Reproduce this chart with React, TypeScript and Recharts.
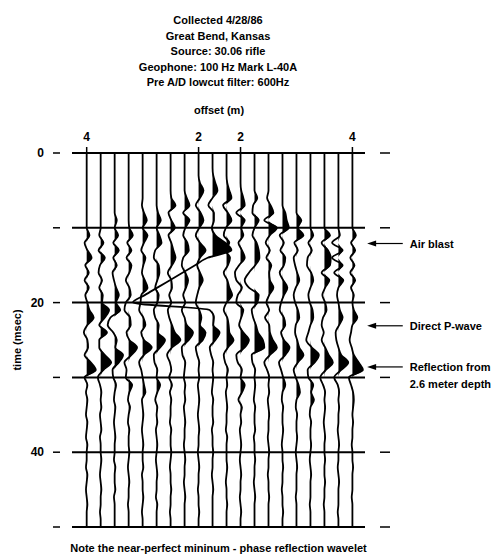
import React from "react";
import {
  ComposedChart,
  Line,
  Area,
  XAxis,
  YAxis,
  CartesianGrid,
  ReferenceLine,
} from "recharts";

const FONT = '"Liberation Sans", Arial, sans-serif';

// sample times (msec), one row per sample
const times = [
  0, 1, 2, 3, 4, 5, 6, 7, 8, 9, 10, 11, 12, 13, 14, 15, 16, 17, 18, 19, 20,
  21, 22, 23, 24, 25, 26, 27, 28, 29, 30, 31, 32, 33, 34, 35, 36, 37, 38, 39,
  40, 41, 42, 43, 44, 45, 46, 47, 48, 49, 50,
];

// trace numbers carrying an offset label on the top axis
const offsetTicks = [1, 9, 12, 20];
const offsetLabels = ["4", "2", "2", "4"];

const timeTicks = [0, 10, 20, 30, 40, 50];
const timeLabels = ["0", "", "20", "", "40", ""];

const titleLines = [
  "Collected 4/28/86",
  "Great Bend, Kansas",
  "Source: 30.06 rifle",
  "Geophone: 100 Hz Mark L-40A",
  "Pre A/D lowcut filter: 600Hz",
];

const noteTimes = [12.1, 23.1, 28.6];
const noteTexts = [["Air blast"], ["Direct P-wave"], ["Reflection from", "2.6 meter depth"]];

// trace amplitudes (in trace spacings), one value per msec
const trace01 = [
  0, 0, 0, 0, 0, 0, 0, 0, 0, 0,
  0, 0.2, -0.15, 0.05, 0.35, -0.1, 0.15, -0.15, 0.15, -0.1,
  0.05, 0.2, 0.5, 0.05, -0.2, 0.05, 0.1, -0.15, 0.3, 0.65,
  -0.15, 0.05, -0.05, 0.05, 0, -0.05, 0.05, 0, -0.05, 0.05,
  0, 0, -0.05, 0.05, 0, -0.05, 0, 0.05, 0, 0, 0,
];
const trace02 = [
  0, 0, 0, 0, 0, 0, 0, 0, 0, 0,
  0, -0.1, 0.2, -0.15, 0.3, -0.05, -0.15, 0.1, -0.1, 0.15,
  0.1, 0.6, 0.3, -0.1, 0.45, -0.1, -0.1, 0.3, 0.75, 0.2,
  -0.2, -0.05, 0.05, 0, 0.05, -0.05, 0, 0.05, -0.05, 0,
  0, 0.05, 0, -0.05, 0, 0.05, 0, 0, -0.05, 0, 0,
];
const trace03 = [
  0, 0, 0, 0, 0, 0, 0, 0, 0, 0.15,
  0, 0.25, -0.1, 0.3, -0.1, 0.15, -0.15, -0.05, 0.1, 0.3,
  0.1, 0.4, -0.3, -0.5, -0.1, 0.15, 0.05, 0.6, 0.3, -0.15,
  -0.1, 0.1, 0, -0.05, 0.05, 0, -0.05, 0, 0.05, 0,
  0, -0.05, 0.05, 0, 0, 0.05, -0.05, 0, 0, 0, 0,
];
const trace04 = [
  0, 0, 0, 0, 0, 0, 0, 0, 0, 0,
  0.05, 0.3, -0.1, 0.2, -0.15, 0.2, 0.05, -0.2, 0.05, 0.15,
  -0.2, -0.3, 0.1, 0.15, -0.15, 0.05, 0.6, 0.2, -0.3, -0.15,
  -0.2, 0.25, 0.05, -0.05, 0.1, 0, -0.05, 0.05, 0, 0,
  0.05, 0, -0.05, 0, 0.05, 0, 0, -0.05, 0, 0, 0,
];
const trace05 = [
  0, 0, 0, 0, 0, 0, 0, -0.05, 0.1, 0.3,
  0, 0.35, 0.1, -0.1, 0.2, 0.05, -0.05, 0.15, 0.35, -0.1,
  -0.15, -0.25, 0.05, 0.2, -0.1, 0.1, 0.65, 0.1, -0.25, -0.1,
  0, 0.1, 0.2, -0.05, 0, 0.05, 0, -0.05, 0, 0.05,
  0, 0, 0.05, -0.05, 0, 0, 0.05, 0, -0.05, 0, 0,
];
const trace06 = [
  0, 0, 0, 0, 0, 0, 0, 0, 0.1, 0.3,
  0, 0.2, 0.35, -0.1, -0.2, 0.15, 0.2, 0.05, -0.1, 0.15,
  0.05, -0.2, -0.1, 0.15, 0.1, 0.6, 0.25, -0.2, -0.15, 0.05,
  0, 0.25, 0.05, -0.1, 0.05, 0, 0.05, -0.05, 0, 0.05,
  0, -0.05, 0, 0.05, 0, 0, -0.05, 0.05, 0, 0, 0,
];
const trace07 = [
  0, 0, 0, 0, 0, 0, 0.05, 0.35, -0.15, 0.05,
  0.3, -0.15, 0.05, 0.2, 0.35, 0.1, -0.2, 0.05, 0.1, -0.1,
  0.05, -0.2, -0.1, 0.1, 0.3, 0.7, 0.1, -0.25, -0.05, 0.05,
  -0.1, 0.1, -0.05, 0.05, 0, 0, -0.05, 0.05, 0, 0,
  0.05, 0, -0.05, 0, 0, 0.05, 0, 0, -0.05, 0, 0,
];
const trace08 = [
  0, 0, 0, 0, 0, 0, 0.15, 0.35, -0.1, 0.35,
  0.05, -0.1, 0.2, 0.3, -0.1, -0.2, 0.05, 0.25, 0.1, -0.1,
  0.05, -0.2, 0, 0.15, 0.6, 0.3, -0.2, -0.15, 0.05, 0,
  -0.05, 0.05, 0, 0.05, -0.05, 0, 0.05, 0, 0, -0.05,
  0, 0.05, 0, 0, -0.05, 0, 0.05, 0, 0, 0, 0,
];
const trace09 = [
  0, 0, 0, 0, 0.1, 0.35, 0.1, -0.2, 0.15, 0.35,
  0.05, -0.2, 0.1, 0.5, 0.1, -0.1, 0.1, 0.3, 0.05, -0.1,
  -0.2, 0.05, 0.2, 0.1, 0.5, 0.3, -0.2, -0.1, 0.05, 0,
  0.05, -0.05, 0, 0.05, 0, -0.05, 0, 0.05, 0, 0,
  -0.05, 0, 0.05, 0, 0, -0.05, 0, 0, 0.05, 0, 0,
];
const trace10 = [
  0, 0, 0, 0.05, 0.2, 0.35, 0, -0.3, 0.1, 0.1,
  -0.05, 0.2, 0.9, 1.35, -0.35, -1.25, -2.15, -3.05, -3.95, -4.85,
  -5.7, -0.2, 0.1, 0.05, 0.5, 0.2, -0.2, -0.1, 0.05, 0,
  0.05, 0, -0.05, 0.05, 0, 0, 0.05, -0.05, 0, 0,
  0.05, 0, 0, -0.05, 0, 0.05, 0, 0, 0, 0, 0,
];
const trace11 = [
  0, 0, 0, 0, 0.05, 0.2, 0.35, -0.25, 0.1, 0.35,
  -0.05, -0.2, 0.2, -0.1, 0.25, 0.1, -0.2, 0.05, 0.2, 0.4,
  0, -0.2, 0.05, 0.15, 0.2, 0.5, 0.1, -0.2, -0.1, 0.1,
  0, 0.05, -0.05, 0, 0.05, 0, 0, -0.05, 0.05, 0,
  0, 0, 0.05, 0, -0.05, 0, 0, 0.05, 0, 0, 0,
];
const trace12 = [
  0, 0, 0, 0, 0, 0.05, 0.2, 0.3, -0.3, 0.3,
  0.05, 0.2, -0.15, 0.1, 0.3, -0.1, -0.4, -0.3, 0.1, -0.2,
  -0.3, 0.2, 0.05, -0.1, 0.2, 0.6, 0.3, -0.3, -0.2, 0.1,
  0, 0.3, 0.1, -0.15, 0.1, 0, 0.05, -0.05, 0, 0.05,
  0, -0.05, 0, 0.05, 0, 0, -0.05, 0, 0.05, 0, 0,
];
const trace13 = [
  0, 0, 0, 0, 0, 0, 0.2, -0.1, -0.15, 0.3,
  0, -0.15, 0.15, 0.3, 0.35, 0.05, -0.4, -0.7, -0.4, 0.3,
  0.2, -0.2, -0.1, 0.1, 0.25, 0.6, 0.7, -0.2, -0.15, 0.05,
  0, 0.05, 0, -0.05, 0.05, 0, 0, 0.05, -0.05, 0,
  0, 0.05, 0, 0, -0.05, 0, 0.05, 0, 0, 0, 0,
];
const trace14 = [
  0, 0, 0, 0, 0, 0, -0.1, 0.15, 0.35, -0.3,
  0.6, 0.1, -0.2, 0.1, -0.15, 0.2, 0.05, 0.1, 0.35, 0.05,
  -0.15, 0.05, -0.25, 0.05, 0.1, 0.3, 0.6, 0.1, -0.3, -0.1,
  0.05, 0, 0.05, -0.05, 0, 0.05, 0, 0, -0.05, 0,
  0.05, 0, 0, -0.05, 0, 0, 0.05, 0, 0, 0, 0,
];
const trace15 = [
  0, 0, 0, 0, 0, 0, 0, 0, 0.2, 0.3,
  0.45, -0.2, 0.1, -0.15, 0.2, 0.1, -0.2, 0.05, 0.35, 0.1,
  -0.1, -0.2, 0.1, 0.2, -0.1, 0.1, 0.5, 0.2, -0.25, -0.1,
  0.05, 0.2, 0, -0.05, 0.05, 0, 0, 0.05, 0, -0.05,
  0, 0, 0.05, 0, 0, -0.05, 0, 0, 0.05, 0, 0,
];
const trace16 = [
  0, 0, 0, 0, 0, 0, 0, 0, 0, 0.35,
  0.1, 0.5, -0.15, 0.1, -0.2, -0.1, 0.05, 0.2, -0.05, -0.2,
  -0.1, 0.1, 0.2, -0.05, -0.1, 0.05, 0.2, 0.5, 0.1, -0.2,
  -0.05, 0.15, 0.25, 0, -0.05, 0.05, 0, 0, 0.05, 0,
  -0.05, 0, 0.05, 0, 0, 0, -0.05, 0, 0, 0, 0,
];
const trace17 = [
  0, 0, 0, 0, 0, 0, 0, 0, 0, 0,
  0, 0.2, -0.15, 0.1, -0.2, -0.25, 0.05, 0.2, 0, -0.15,
  -0.05, 0.15, 0.2, 0, -0.15, -0.3, 0.1, 0.6, 0.3, -0.2,
  -0.15, 0.2, 0.05, 0.25, 0, -0.05, 0.05, 0, 0, 0.05,
  0, -0.05, 0, 0.05, 0, 0, 0, -0.05, 0, 0, 0,
];
const trace18 = [
  0, 0, 0, 0, 0, 0, 0, 0, 0, 0,
  0, 0.4, -0.2, 0.25, 0.45, 0.4, -0.2, 0.35, 0.05, -0.15,
  0.05, 0.15, -0.1, -0.2, -0.05, -0.2, 0.05, 0.3, 0.6, 0.1,
  -0.3, -0.1, 0.05, 0, 0.05, 0, -0.05, 0, 0.05, 0,
  0, 0.05, 0, 0, 0.05, 0, 0, -0.05, 0, 0, 0,
];
const trace19 = [
  0, 0, 0, 0, 0, 0, 0, 0, 0, 0,
  0, 0.1, -0.45, 0.3, -0.45, 0.3, -0.3, 0.35, 0, -0.1,
  0, 0.1, 0.3, 0.05, -0.2, -0.15, 0, 0.2, 0.7, 0.2,
  -0.3, -0.05, 0.05, 0, 0.05, 0, 0, -0.05, 0, 0.05,
  0, 0, -0.05, 0, 0.05, 0, 0, 0, -0.05, 0, 0,
];
const trace20 = [
  0, 0, 0, 0, 0, 0, 0, 0, 0, 0,
  0, 0.25, -0.1, 0.2, -0.15, 0.15, -0.15, 0.2, -0.1, 0.1,
  0, 0.1, 0.35, 0, -0.1, -0.2, -0.05, 0.1, 0.45, 0.75,
  -0.25, -0.1, 0.05, 0.1, 0.05, 0, 0.05, 0, 0, -0.05,
  0, 0, 0.05, 0, 0, 0, -0.05, 0, 0, 0, 0,
];

const traces = [
  trace01, trace02, trace03, trace04, trace05, trace06, trace07, trace08, trace09, trace10,
  trace11, trace12, trace13, trace14, trace15, trace16, trace17, trace18, trace19, trace20,
];

// w = wiggle position, f = filled (positive) lobe edge
const rows = times.map((t, k) => {
  const row: Record<string, number> = { t };
  traces.forEach((amp, i) => {
    row[`w${i}`] = i + 1 + amp[k];
    row[`f${i}`] = i + 1 + Math.max(0, amp[k]);
  });
  return row;
});

const textStyle = { fontFamily: FONT, fontSize: 11, fontWeight: "bold" as const, color: "#000" };

function LeftTick(props: any) {
  const { x, y, payload } = props;
  const label = timeLabels[timeTicks.indexOf(payload.value)];
  return (
    <g>
      <line x1={x - 19} x2={x - 12} y1={y} y2={y} stroke="#000" strokeWidth={1.5} />
      {label ? (
        <text x={x - 28} y={y} dy={4} textAnchor="end" fontFamily={FONT} fontSize={12} fontWeight="bold" fill="#000">
          {label}
        </text>
      ) : null}
    </g>
  );
}

function RightTick(props: any) {
  const { x, y } = props;
  return <line x1={x + 15} x2={x + 25} y1={y} y2={y} stroke="#000" strokeWidth={1.5} />;
}

function noteShape(lines: string[]) {
  return (p: any) => {
    const { x1, y1, x2 } = p;
    return (
      <g>
        <line x1={x1 + 6} y1={y1} x2={x2} y2={y1} stroke="#000" strokeWidth={1.2} />
        <polygon points={`${x1},${y1} ${x1 + 9},${y1 - 3} ${x1 + 9},${y1 + 3}`} fill="#000" />
        {lines.map((s, j) => (
          <text key={j} x={x2 + 7} y={y1 + j * 17} dy={4} fontFamily={FONT} fontSize={11} fontWeight="bold" fill="#000">
            {s}
          </text>
        ))}
      </g>
    );
  };
}

export default function App() {
  return (
    <div style={{ position: "absolute", left: 0, top: 0, width: 492, height: 557, background: "#fff" }}>
      <div style={{ ...textStyle, position: "absolute", left: 0, top: 13, width: 436, textAlign: "center", lineHeight: "15.6px" }}>
        {titleLines.map((l) => (
          <div key={l}>{l}</div>
        ))}
      </div>
      <div style={{ ...textStyle, position: "absolute", left: 0, top: 102, width: 438, textAlign: "center", lineHeight: "16px" }}>
        offset (m)
      </div>
      <div
        style={{
          ...textStyle,
          position: "absolute",
          left: -33,
          top: 332,
          width: 100,
          textAlign: "center",
          lineHeight: "16px",
          transform: "rotate(-90deg)",
        }}
      >
        time (msec)
      </div>
      <div style={{ ...textStyle, position: "absolute", left: 0, top: 540, width: 437, textAlign: "center", lineHeight: "16px" }}>
        Note the near-perfect mininum - phase reflection wavelet
      </div>
      <ComposedChart
        width={492}
        height={557}
        data={rows}
        layout="vertical"
        margin={{ top: 128, right: 97, bottom: 30, left: 12 }}
      >
        <CartesianGrid vertical={false} stroke="#000" strokeWidth={2} />
        <XAxis
          type="number"
          orientation="top"
          domain={[-0.05, 20.9]}
          allowDataOverflow
          ticks={offsetTicks}
          interval={0}
          tickFormatter={(v: number) => offsetLabels[offsetTicks.indexOf(v)]}
          axisLine={false}
          tickLine={{ stroke: "#000", strokeWidth: 1.5 }}
          tickSize={6}
          tickMargin={6}
          height={25}
          tick={{ fill: "#000", fontSize: 12, fontWeight: "bold", fontFamily: FONT }}
        />
        <YAxis
          type="number"
          dataKey="t"
          domain={[0, 50]}
          ticks={timeTicks}
          interval={0}
          axisLine={false}
          tickLine={false}
          tickSize={0}
          tickMargin={0}
          width={60}
          tick={<LeftTick />}
        />
        <YAxis
          yAxisId="r"
          orientation="right"
          type="number"
          dataKey="t"
          domain={[0, 50]}
          ticks={timeTicks}
          interval={0}
          axisLine={false}
          tickLine={false}
          tickSize={0}
          tickMargin={0}
          width={30}
          tick={<RightTick />}
        />
        {traces.map((_, i) => (
          <Area
            key={`f${i}`}
            dataKey={`f${i}`}
            type="monotone"
            baseValue={i + 1}
            stroke="none"
            fill="#000"
            fillOpacity={1}
            isAnimationActive={false}
          />
        ))}
        {traces.map((_, i) => (
          <Line
            key={`w${i}`}
            dataKey={`w${i}`}
            type="monotone"
            stroke="#000"
            strokeWidth={1.8}
            dot={false}
            isAnimationActive={false}
          />
        ))}
        {noteTimes.map((t, i) => (
          <ReferenceLine
            key={`n${i}`}
            segment={[
              { x: 21.05, y: t },
              { x: 23.6, y: t },
            ]}
            ifOverflow="visible"
            shape={noteShape(noteTexts[i])}
          />
        ))}
      </ComposedChart>
    </div>
  );
}
